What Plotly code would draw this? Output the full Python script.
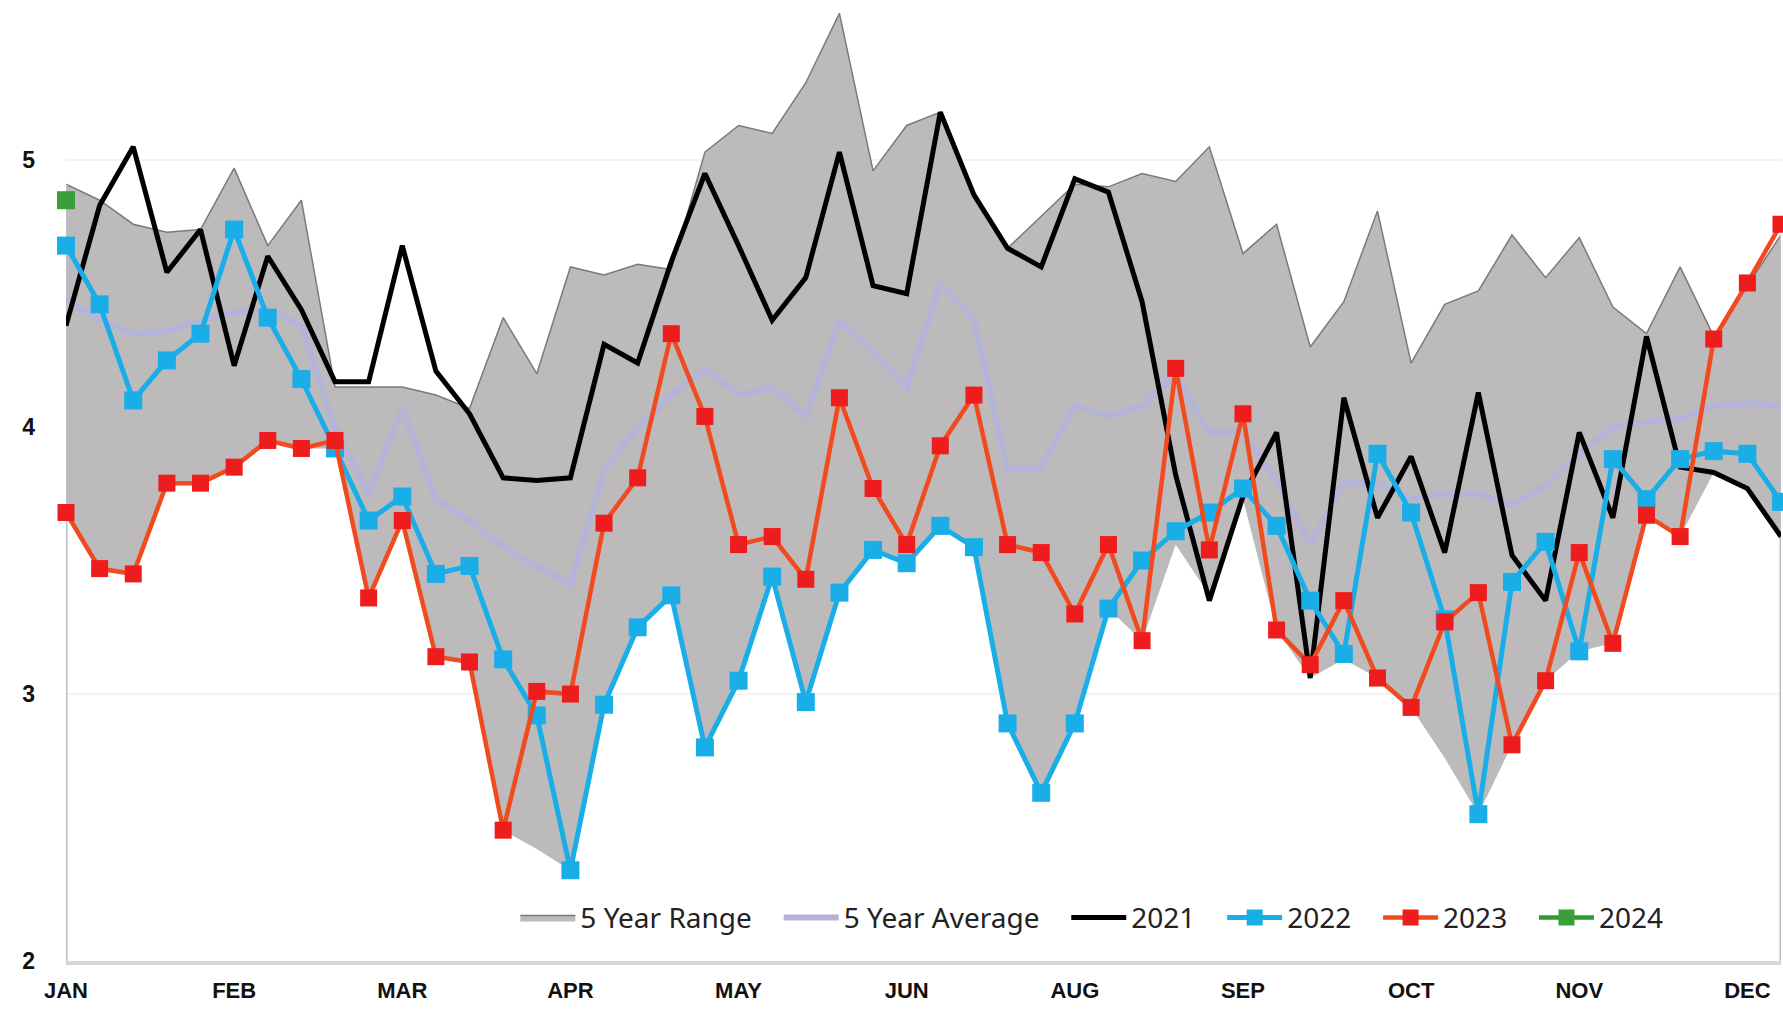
import plotly.graph_objects as go

weeks = list(range(52))
month_ticks = [0, 5, 10, 15, 20, 25, 30, 35, 40, 45, 50]
month_labels = ["JAN", "FEB", "MAR", "APR", "MAY", "JUN", "AUG", "SEP", "OCT", "NOV", "DEC"]

range_upper = [4.91, 4.85, 4.76, 4.73, 4.74, 4.97, 4.68, 4.85, 4.15, 4.15,
               4.15, 4.12, 4.07, 4.41, 4.20, 4.60, 4.57, 4.61, 4.59, 5.03,
               5.13, 5.10, 5.29, 5.55, 4.96, 5.13, 5.18, 4.88, 4.67, 4.79,
               4.91, 4.90, 4.95, 4.92, 5.05, 4.65, 4.76, 4.30, 4.47, 4.81,
               4.24, 4.46, 4.51, 4.72, 4.56, 4.71, 4.45, 4.35, 4.60, 4.34,
               4.53, 4.72]
range_lower = [3.68, 3.47, 3.45, 3.79, 3.79, 3.85, 3.95, 3.92, 3.92, 3.36,
               3.65, 3.14, 3.12, 2.49, 2.42, 2.34, 2.96, 3.25, 3.37, 2.80,
               3.05, 3.44, 2.97, 3.38, 3.54, 3.49, 3.63, 3.55, 2.89, 2.63,
               2.89, 3.32, 3.20, 3.56, 3.37, 3.73, 3.24, 3.06, 3.13, 3.06,
               2.95, 2.76, 2.55, 2.81, 3.05, 3.16, 3.19, 3.67, 3.59, 3.83,
               3.77, 3.59]
avg5 = [4.48, 4.40, 4.35, 4.36, 4.40, 4.43, 4.44, 4.38, 3.99, 3.75,
        4.07, 3.73, 3.65, 3.55, 3.48, 3.41, 3.84, 4.00, 4.12, 4.22,
        4.12, 4.15, 4.04, 4.40, 4.28, 4.15, 4.54, 4.40, 3.84, 3.85,
        4.08, 4.04, 4.08, 4.20, 3.98, 3.98, 3.80, 3.56, 3.79, 3.79,
        3.73, 3.75, 3.75, 3.71, 3.78, 3.90, 4.00, 4.02, 4.03, 4.08,
        4.09, 4.08]
y2021 = [4.38, 4.83, 5.05, 4.58, 4.74, 4.23, 4.64, 4.44, 4.17, 4.17,
         4.68, 4.21, 4.05, 3.81, 3.80, 3.81, 4.31, 4.24, 4.62, 4.95,
         4.68, 4.40, 4.56, 5.03, 4.53, 4.50, 5.18, 4.87, 4.67, 4.60,
         4.93, 4.88, 4.47, 3.82, 3.35, 3.74, 3.98, 3.06, 4.11, 3.66,
         3.89, 3.53, 4.13, 3.52, 3.35, 3.98, 3.66, 4.34, 3.85, 3.83,
         3.77, 3.59]
y2022 = [4.68, 4.46, 4.10, 4.25, 4.35, 4.74, 4.41, 4.18, 3.92, 3.65,
         3.74, 3.45, 3.48, 3.13, 2.92, 2.34, 2.96, 3.25, 3.37, 2.80,
         3.05, 3.44, 2.97, 3.38, 3.54, 3.49, 3.63, 3.55, 2.89, 2.63,
         2.89, 3.32, 3.50, 3.61, 3.68, 3.77, 3.63, 3.35, 3.15, 3.90,
         3.68, 3.28, 2.55, 3.42, 3.57, 3.16, 3.88, 3.73, 3.88, 3.91,
         3.90, 3.72]
y2023 = [3.68, 3.47, 3.45, 3.79, 3.79, 3.85, 3.95, 3.92, 3.95, 3.36,
         3.65, 3.14, 3.12, 2.49, 3.01, 3.00, 3.64, 3.81, 4.35, 4.04,
         3.56, 3.59, 3.43, 4.11, 3.77, 3.56, 3.93, 4.12, 3.56, 3.53,
         3.30, 3.56, 3.20, 4.22, 3.54, 4.05, 3.24, 3.11, 3.35, 3.06,
         2.95, 3.27, 3.38, 2.81, 3.05, 3.53, 3.19, 3.67, 3.59, 4.33,
         4.54, 4.76]
y2024 = [4.85]

series_names = ["5 Year Range", "5 Year Average", "2021", "2022", "2023", "2024"]

Y_MIN, Y_MAX = 2, 5.6
y_ticks = [2, 3, 4, 5]

PAD = "\u00a0\u00a0\u00a0"  # extra spacing between legend entries

fig = go.Figure()

# 5 year range band
fig.add_trace(go.Scatter(x=weeks, y=range_lower, mode="lines",
                         line=dict(width=0, color="#bdbabb"),
                         showlegend=False, hoverinfo="skip"))
fig.add_trace(go.Scatter(x=weeks, y=range_upper, mode="lines", name=series_names[0] + PAD,
                         fill="tonexty", fillcolor="#bdbabb",
                         line=dict(width=1.5, color="#7a7a7a")))
# area edge outlines at both ends
fig.add_trace(go.Scatter(x=[weeks[0], weeks[0], None, weeks[-1], weeks[-1]],
                         y=[Y_MIN, range_upper[0], None, Y_MIN, range_upper[-1]],
                         mode="lines", line=dict(width=3, color="#bcbccc"),
                         showlegend=False, hoverinfo="skip", cliponaxis=False))

fig.add_trace(go.Scatter(x=weeks, y=avg5, mode="lines", name=series_names[1] + PAD,
                         line=dict(width=6, color="#b4b4d8")))
fig.add_trace(go.Scatter(x=weeks, y=y2021, mode="lines", name=series_names[2] + PAD,
                         line=dict(width=5, color="#000000")))
fig.add_trace(go.Scatter(x=weeks, y=y2022, mode="lines+markers", name=series_names[3] + PAD,
                         line=dict(width=5, color="#1aaee8"),
                         marker=dict(symbol="square", size=18, color="#1aaee8"),
                         cliponaxis=False))
fig.add_trace(go.Scatter(x=weeks, y=y2023, mode="lines+markers", name=series_names[4] + PAD,
                         line=dict(width=4.5, color="#f04a1e"),
                         marker=dict(symbol="square", size=17, color="#ee1c1c"),
                         cliponaxis=False))
fig.add_trace(go.Scatter(x=weeks[:len(y2024)], y=y2024, mode="lines+markers", name=series_names[5],
                         line=dict(width=4.5, color="#2e9a35"),
                         marker=dict(symbol="square", size=18, color="#3a9e3a"),
                         cliponaxis=False))

fig.update_layout(
    width=1783, height=1009,
    margin=dict(l=66, r=2, t=0, b=48),
    paper_bgcolor="white", plot_bgcolor="white",
    showlegend=True,
    legend=dict(orientation="h", traceorder="normal",
                x=0.262, xanchor="left", y=0.045, yanchor="middle",
                font=dict(family="Liberation Sans Narrow, Noto Sans, sans-serif", size=28, color="#222222"),
                bgcolor="rgba(255,255,255,0)", itemwidth=55, tracegroupgap=0),
    xaxis=dict(range=[weeks[0], weeks[-1]], tickmode="array", tickvals=month_ticks,
               ticktext=month_labels, showgrid=False, zeroline=False,
               showline=True, linecolor="#d6d6d6", linewidth=4, ticks="",
               ticklabelstandoff=7,
               tickfont=dict(family="Liberation Sans, Arial", size=22, color="#111111", weight="bold")),
    yaxis=dict(range=[Y_MIN, Y_MAX], tickmode="array", tickvals=y_ticks,
               showgrid=True, gridcolor="#f3f3f3", gridwidth=2, zeroline=False,
               showline=False, ticks="", ticklabelstandoff=30,
               tickfont=dict(family="Liberation Sans, Arial", size=23, color="#111111", weight="bold")),
)

fig.write_html("out.html", config={"displayModeBar": False},
               post_script="document.body.style.margin='0';document.body.style.overflow='hidden';")
